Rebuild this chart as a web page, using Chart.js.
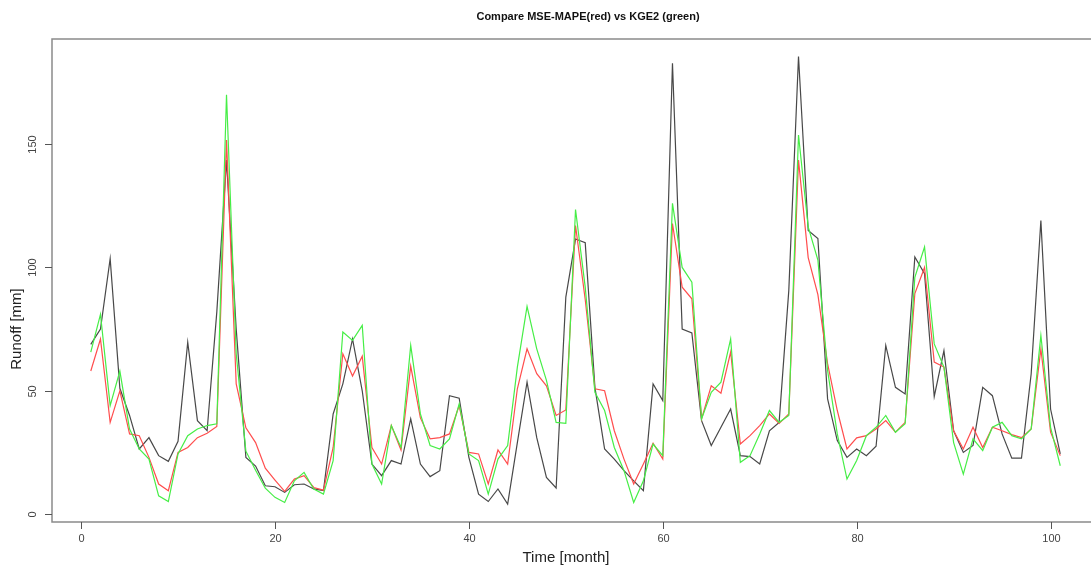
<!DOCTYPE html>
<html>
<head>
<meta charset="utf-8">
<script src="https://cdn.jsdelivr.net/npm/chart.js@4.4.1/dist/chart.umd.min.js"></script>
<style>
  html, body { margin: 0; padding: 0; background: #fff; }
  #wrap { position: relative; width: 1091px; height: 568px; }
</style>
</head>
<body>
<div id="wrap"><canvas id="runoffChart" width="1091" height="568"></canvas></div>
<script>
// --- Data ---
const months = [1,2,3,4,5,6,7,8,9,10,11,12,13,14,15,16,17,18,19,20,
  21,22,23,24,25,26,27,28,29,30,31,32,33,34,35,36,37,38,39,40,
  41,42,43,44,45,46,47,48,49,50,51,52,53,54,55,56,57,58,59,60,
  61,62,63,64,65,66,67,68,69,70,71,72,73,74,75,76,77,78,79,80,
  81,82,83,84,85,86,87,88,89,90,91,92,93,94,95,96,97,98,99,100,101];

const observed = [68.8,75,103.5,51,40,26.4,31,23.7,21.4,29.5,
  69.7,37.9,33.8,82,143.5,75,23,19.5,11.5,11.1,
  8.8,11.9,12.2,10.2,9.5,40.6,52.8,71,50,20.3,
  15.6,21.7,20.3,38.6,20.3,15.2,17.6,48,47,23,
  8.1,5.1,10.2,4.1,29,53.5,31,14.9,10.6,88,
  111.5,110,51.4,26.4,22.3,17.6,13.5,9.5,52.8,46,
  182.8,75,73.4,37.9,27.8,35.2,42.6,23.7,23.3,20.3,
  33.8,37.2,90.7,185.5,115,111.7,46.7,29.8,23,26.4,
  23.7,27.5,68.4,51.4,48.7,104.2,97.5,47.7,66.3,33.8,
  25,27.8,51.4,48,32.5,22.7,22.7,56.9,119,42.6,24.4];

const mseMape = [58,71,37.2,50,32.5,31.8,23,12.2,9.5,25,
  27,31,32.8,35.5,151.6,52.8,35,29,18.6,13.8,
  9.2,14.2,15.6,10.8,9.7,27,65,56,64,27,
  20.3,35.9,26,60,39,30.5,31,32.5,44,25,
  24.4,12.2,26,20.3,50.8,67,56.9,52,40,42.2,
  117,87,50.8,50,33.8,22.3,12.2,20.3,28.7,22.3,
  117.8,92,87.3,38.6,52,49,65.7,28.4,31.8,35.9,
  40.6,36.8,40.6,143.5,104,89,61,42,26.4,30.9,
  31.8,34.5,37.9,33.2,37.2,89.4,100,61.6,59.6,33.8,
  26.4,35.2,27,35.2,33.8,32.2,31,34.5,67,33.2,23.7];

const kge2 = [65.7,81,44,58,34.5,26.4,22.3,7.4,5.1,24.4,
  31.8,34.5,35.9,36.6,170,65,25.5,17.8,10.5,6.8,
  4.7,13.5,16.9,10.2,8.1,21.7,73.8,70.4,76.5,20.3,
  12.2,35.9,27,68.4,40.6,27.8,26.4,30.5,44.7,24.4,
  21.7,8.1,22.3,27.8,59.6,84.2,67,54.2,37.2,36.8,
  123.5,92,49.4,42,27,17.6,4.7,13.5,28.4,23.7,
  126,100,94,38.6,49.4,53.5,71,21,23.7,32.5,
  42,37.2,40,153.7,116.4,103,58.2,32.5,14.2,21.7,
  31.8,35.2,40,33.2,36.6,96,108.3,69,59.6,29,
  16.2,30.5,25.7,35.2,37.2,31.8,30.5,34.5,72.4,35.2,19.6];

const xTicks = [0, 20, 40, 60, 80, 100];
const yTicks = [0, 50, 100, 150];

const chartTitle = 'Compare MSE-MAPE(red) vs KGE2 (green)';
const xTitle = 'Time [month]';
const yTitle = 'Runoff [mm]';

function toPoints(values) {
  return values.map((v, i) => ({ x: months[i], y: v }));
}

// R-style box, ticks and labels drawn from the chart's own scales
const rAxesPlugin = {
  id: 'rAxes',
  afterDraw(chart) {
    const { ctx, chartArea } = chart;
    const xs = chart.scales.x;
    const ys = chart.scales.y;
    ctx.save();

    // plot box
    ctx.strokeStyle = '#8a8a8a';
    ctx.lineWidth = 1.5;
    ctx.strokeRect(chartArea.left, chartArea.top,
      chartArea.right - chartArea.left + 10, chartArea.bottom - chartArea.top);

    ctx.strokeStyle = '#555';
    ctx.lineWidth = 1;
    ctx.fillStyle = '#444';
    ctx.font = '11px "Liberation Sans", Arial, sans-serif';

    // x ticks
    ctx.textAlign = 'center';
    ctx.textBaseline = 'middle';
    xTicks.forEach(t => {
      const px = Math.round(xs.getPixelForValue(t)) + 0.5;
      ctx.beginPath();
      ctx.moveTo(px, chartArea.bottom);
      ctx.lineTo(px, chartArea.bottom + 7);
      ctx.stroke();
      ctx.fillText(String(t), px, chartArea.bottom + 17);
    });

    // y ticks (labels rotated like R's las=0)
    yTicks.forEach(t => {
      const py = Math.round(ys.getPixelForValue(t)) + 0.5;
      ctx.beginPath();
      ctx.moveTo(chartArea.left, py);
      ctx.lineTo(chartArea.left - 7, py);
      ctx.stroke();
      ctx.save();
      ctx.translate(chartArea.left - 19, py);
      ctx.rotate(-Math.PI / 2);
      ctx.fillText(String(t), 0, 0);
      ctx.restore();
    });

    // titles
    ctx.fillStyle = '#111';
    ctx.font = 'bold 11px "Liberation Sans", Arial, sans-serif';
    ctx.fillText(chartTitle, 588, 17);

    ctx.fillStyle = '#222';
    ctx.font = '15px "Liberation Sans", Arial, sans-serif';
    ctx.fillText(xTitle, 566, 558);

    ctx.save();
    ctx.translate(17, 329);
    ctx.rotate(-Math.PI / 2);
    ctx.fillText(yTitle, 0, 0);
    ctx.restore();

    ctx.restore();
  }
};

const chart = new Chart(document.getElementById('runoffChart').getContext('2d'), {
  type: 'line',
  data: {
    datasets: [
      {
        label: 'Observed',
        data: toPoints(observed),
        borderColor: 'rgba(40,40,40,0.85)',
        borderWidth: 1.2,
        pointRadius: 0,
        tension: 0,
        order: 3
      },
      {
        label: 'MSE-MAPE',
        data: toPoints(mseMape),
        borderColor: '#ff4d4d',
        borderWidth: 1.2,
        pointRadius: 0,
        tension: 0,
        order: 2
      },
      {
        label: 'KGE2',
        data: toPoints(kge2),
        borderColor: '#46ee46',
        borderWidth: 1.2,
        pointRadius: 0,
        tension: 0,
        order: 1
      }
    ]
  },
  options: {
    responsive: false,
    animation: false,
    layout: { padding: { left: 52, top: 39, bottom: 46, right: 0 } },
    scales: {
      x: { type: 'linear', display: false, min: -3, max: 104.17 },
      y: { type: 'linear', display: false, min: -3.2, max: 192.6 }
    },
    plugins: {
      legend: { display: false },
      tooltip: { enabled: false }
    }
  },
  plugins: [rAxesPlugin]
});
</script>
</body>
</html>
